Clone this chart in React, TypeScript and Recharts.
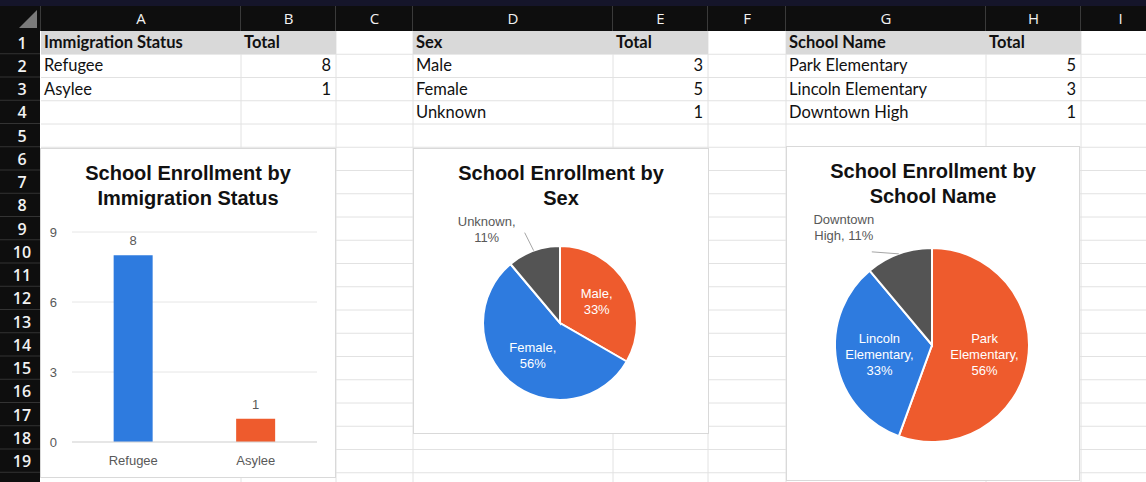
import React from 'react';
import {
  BarChart,
  Bar,
  XAxis,
  YAxis,
  CartesianGrid,
  LabelList,
  Cell,
  PieChart,
  Pie,
} from 'recharts';

// sheet data
const statusNames = ['Refugee', 'Asylee'];
const statusTotals = [8, 1];
const sexNames = ['Male', 'Female', 'Unknown'];
const sexTotals = [3, 5, 1];
const schoolNames = ['Park Elementary', 'Lincoln Elementary', 'Downtown High'];
const schoolTotals = [5, 3, 1];
const countTicks = [0, 3, 6, 9];
const columnLetters = ['A', 'B', 'C', 'D', 'E', 'F', 'G', 'H', 'I'];
const rowLabels = ['1', '2', '3', '4', '5', '6', '7', '8', '9', '10', '11', '12', '13', '14', '15', '16', '17', '18', '19'];

const BLUE = '#2E7BDF';
const ORANGE = '#EE5B2D';
const DARK = '#545454';
const TICK_GRAY = '#595959';
const CHART_FONT = '"Liberation Sans", Arial, sans-serif';
const SHEET_FONT = 'Lato, "Open Sans", sans-serif';

// layout of the worksheet
const colEdges = [41, 241, 336, 413, 613, 708, 786, 986, 1081, 1160];
const ROW_TOP = 31;
const ROW_H = 23.25;

const statusData = statusNames.map((name, i) => ({ name, total: statusTotals[i] }));
const sexData = sexNames.map((name, i) => ({ name, total: sexTotals[i] }));
const schoolData = schoolNames.map((name, i) => ({ name, total: schoolTotals[i] }));

const barColors = [BLUE, ORANGE];
const sexColors = [ORANGE, BLUE, DARK];
const schoolColors = [ORANGE, BLUE, DARK];
const noMargin = { top: 0, right: 0, bottom: 0, left: 0 };

const wrapWords = (words: string[], maxChars: number) => {
  const lines: string[] = [];
  let cur = '';
  words.forEach((w) => {
    if (!cur) cur = w;
    else if ((cur + ' ' + w).length <= maxChars) cur = cur + ' ' + w;
    else {
      lines.push(cur);
      cur = w;
    }
  });
  if (cur) lines.push(cur);
  return lines;
};

const makePieLabel =
  (wrapChars: number, lineOff: [number, number], textOff: [number, number]) => (props: any) => {
    const { cx, cy, midAngle, outerRadius, percent } = props;
    const name = props.payload?.name ?? props.name;
    const rad = Math.PI / 180;
    const pct = `${Math.round(percent * 100)}%`;
    const words = `${name}, ${pct}`.split(' ');
    const lines = wrapWords(words, wrapChars);
    const lh = 16;
    if (percent < 0.15) {
      const ex = cx + outerRadius * Math.cos(-midAngle * rad);
      const ey = cy + outerRadius * Math.sin(-midAngle * rad);
      const tx = ex + textOff[0];
      const ty = ey + textOff[1];
      return (
        <g>
          <polyline
            points={`${ex},${ey} ${ex + lineOff[0]},${ey + lineOff[1]}`}
            stroke="#a6a6a6"
            fill="none"
            strokeWidth={1}
          />
          <text x={tx} textAnchor="middle" fill={TICK_GRAY} fontSize={13} fontFamily={CHART_FONT}>
            {lines.map((l, i) => (
              <tspan key={i} x={tx} y={ty - ((lines.length - 1) * lh) / 2 + i * lh + 4.5}>
                {l}
              </tspan>
            ))}
          </text>
        </g>
      );
    }
    const r = outerRadius * 0.55;
    const x = cx + r * Math.cos(-midAngle * rad);
    const y = cy + r * Math.sin(-midAngle * rad);
    return (
      <text x={x} textAnchor="middle" fill="#fff" fontSize={13} fontFamily={CHART_FONT}>
        {lines.map((l, i) => (
          <tspan key={i} x={x} y={y - ((lines.length - 1) * lh) / 2 + i * lh + 4.5}>
            {l}
          </tspan>
        ))}
      </text>
    );
  };

const rowTop = (row: number) => ROW_TOP + (row - 1) * ROW_H;

const SheetCell = ({ col, row, text, bold, right }: any) => (
  <div
    style={{
      position: 'absolute',
      left: colEdges[col] + 3,
      width: colEdges[col + 1] - colEdges[col] - 8,
      top: rowTop(row),
      height: ROW_H,
      lineHeight: `${ROW_H}px`,
      fontSize: 16.5,
      fontWeight: bold ? 700 : 400,
      color: '#111',
      textAlign: right ? 'right' : 'left',
      whiteSpace: 'nowrap',
    }}
  >
    {text}
  </div>
);

const Table = ({ col, header, names, totals }: any) => (
  <>
    <div
      style={{
        position: 'absolute',
        left: colEdges[col],
        top: rowTop(1),
        width: colEdges[col + 2] - colEdges[col],
        height: ROW_H,
        background: '#d9d9d9',
      }}
    />
    <SheetCell col={col} row={1} text={header} bold />
    <SheetCell col={col + 1} row={1} text="Total" bold />
    {names.map((n: string, i: number) => (
      <React.Fragment key={n}>
        <SheetCell col={col} row={i + 2} text={n} />
        <SheetCell col={col + 1} row={i + 2} text={totals[i]} right />
      </React.Fragment>
    ))}
  </>
);

const ChartBox = ({ left, top, width, height, title, children }: any) => (
  <div
    style={{
      position: 'absolute',
      left,
      top,
      width,
      height,
      background: '#fff',
      border: '1px solid #d9d9d9',
      boxSizing: 'border-box',
    }}
  >
    {children}
    <div
      style={{
        position: 'absolute',
        left: 0,
        right: 0,
        top: 12,
        textAlign: 'center',
        fontFamily: CHART_FONT,
        fontWeight: 700,
        fontSize: 20,
        lineHeight: '25px',
        color: '#111',
      }}
    >
      {title.map((t: string) => (
        <div key={t}>{t}</div>
      ))}
    </div>
  </div>
);

const Sheet = () => (
  <svg width={1146} height={482} style={{ position: 'absolute', left: 0, top: 0 }}>
    <rect x={0} y={0} width={1146} height={482} fill="#fff" />
    {rowLabels.map((r, i) => (
      <line key={r} x1={41} x2={1146} y1={rowTop(i + 2)} y2={rowTop(i + 2)} stroke="#e2e2e2" />
    ))}
    {colEdges.slice(1).map((x) => (
      <line key={x} x1={x} x2={x} y1={31} y2={482} stroke="#e2e2e2" />
    ))}
    {/* frame */}
    <rect x={0} y={0} width={1146} height={6} fill="#15152a" />
    <rect x={0} y={6} width={1146} height={25} fill="#0e0e0e" />
    <rect x={0} y={31} width={40} height={451} fill="#0e0e0e" />
    <polygon points="37,10 37,28 19,28" fill="#7a7a7a" />
    {colEdges.slice(0, 9).map((x, i) => (
      <g key={x}>
        <line x1={x - 0.5} x2={x - 0.5} y1={6} y2={31} stroke="#3a3a3a" />
        <text
          x={(x + colEdges[i + 1]) / 2}
          y={24}
          textAnchor="middle"
          fill="#f2f2f2"
          fontSize={15}
          fontFamily='"Open Sans", sans-serif'
        >
          {columnLetters[i]}
        </text>
      </g>
    ))}
    {rowLabels.map((r, i) => (
      <g key={r}>
        <line x1={0} x2={40} y1={rowTop(i + 2) - 0.5} y2={rowTop(i + 2) - 0.5} stroke="#333" />
        <text
          x={22}
          y={rowTop(i + 1) + 17.5}
          textAnchor="middle"
          fill="#f2f2f2"
          fontSize={16}
          fontWeight={600}
          fontFamily='"Open Sans", sans-serif'
        >
          {r}
        </text>
      </g>
    ))}
  </svg>
);

export default function App() {
  return (
    <div
      style={{
        position: 'fixed',
        left: 0,
        top: 0,
        width: 1146,
        height: 482,
        overflow: 'hidden',
        fontFamily: SHEET_FONT,
        background: '#fff',
      }}
    >
      <Sheet />
      <Table col={0} header="Immigration Status" names={statusNames} totals={statusTotals} />
      <Table col={3} header="Sex" names={sexNames} totals={sexTotals} />
      <Table col={6} header="School Name" names={schoolNames} totals={schoolTotals} />

      <ChartBox left={40} top={148} width={296} height={330} title={['School Enrollment by', 'Immigration Status']}>
        <div style={{ position: 'absolute', left: 0, top: 66 }}>
          <BarChart
            width={294}
            height={262}
            data={statusData}
            margin={{ top: 17, right: 18, bottom: 0, left: 0 }}
            barCategoryGap="34%"
          >
            <CartesianGrid vertical={false} stroke="#e6e6e6" />
            <XAxis
              dataKey="name"
              height={35}
              tickLine={false}
              axisLine={{ stroke: '#d9d9d9' }}
              tickMargin={8}
              tick={{ fontSize: 13, fill: TICK_GRAY, fontFamily: CHART_FONT }}
            />
            <YAxis
              width={31}
              domain={[0, 9]}
              ticks={countTicks}
              tickLine={false}
              axisLine={false}
              tickMargin={9}
              tick={{ fontSize: 13, fill: TICK_GRAY, fontFamily: CHART_FONT }}
            />
            <Bar dataKey="total" isAnimationActive={false}>
              {statusData.map((d, i) => (
                <Cell key={d.name} fill={barColors[i]} />
              ))}
              <LabelList
                dataKey="total"
                position="top"
                offset={10}
                fill={TICK_GRAY}
                fontSize={13}
                fontFamily={CHART_FONT}
              />
            </Bar>
          </BarChart>
        </div>
      </ChartBox>

      <ChartBox left={413} top={148} width={296} height={286} title={['School Enrollment by', 'Sex']}>
        <div style={{ position: 'absolute', left: 0, top: 0 }}>
          <PieChart width={294} height={284} margin={noMargin}>
            <Pie
              data={sexData}
              dataKey="total"
              nameKey="name"
              cx={146}
              cy={174}
              outerRadius={77}
              startAngle={90}
              endAngle={-270}
              stroke="#fff"
              strokeWidth={2}
              labelLine={false}
              label={makePieLabel(8, [-9, -18], [-47, -21])}
              isAnimationActive={false}
            >
              {sexData.map((d, i) => (
                <Cell key={d.name} fill={sexColors[i]} />
              ))}
            </Pie>
          </PieChart>
        </div>
      </ChartBox>

      <ChartBox left={786} top={146} width={294} height={335} title={['School Enrollment by', 'School Name']}>
        <div style={{ position: 'absolute', left: 0, top: 0 }}>
          <PieChart width={292} height={333} margin={noMargin}>
            <Pie
              data={schoolData}
              dataKey="total"
              nameKey="name"
              cx={145}
              cy={198}
              outerRadius={97}
              startAngle={90}
              endAngle={-270}
              stroke="#fff"
              strokeWidth={2}
              labelLine={false}
              label={makePieLabel(11, [-27, -2], [-55, -26])}
              isAnimationActive={false}
            >
              {schoolData.map((d, i) => (
                <Cell key={d.name} fill={schoolColors[i]} />
              ))}
            </Pie>
          </PieChart>
        </div>
      </ChartBox>
    </div>
  );
}
